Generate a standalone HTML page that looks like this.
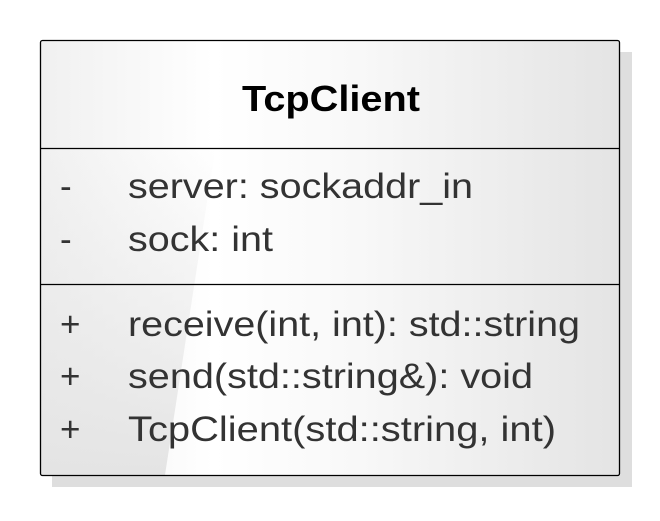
<!DOCTYPE html>
<html><head><style>body{margin:0;background:#fff}</style></head><body>
<svg width="660" height="516" xmlns="http://www.w3.org/2000/svg" font-family="Liberation Sans, sans-serif">
<defs>
<linearGradient id="g" x1="0" y1="0" x2="1" y2="0">
<stop offset="0" stop-color="#f0f0f0"/><stop offset="0.3" stop-color="#ffffff"/><stop offset="0.55" stop-color="#f8f8f8"/><stop offset="1" stop-color="#e4e4e4"/>
</linearGradient>
<linearGradient id="h" x1="0" y1="0" x2="0" y2="1">
<stop offset="0" stop-color="#e6e6e6" stop-opacity="0"/><stop offset="1" stop-color="#e4e4e4" stop-opacity="1"/>
</linearGradient>
</defs>
<rect x="52" y="52" width="580" height="435" fill="#dedede"/>
<rect x="40.5" y="40.5" width="579" height="435" fill="url(#g)"/>
<polygon points="41,150 215,150 165,475 41,475" fill="url(#h)"/>
<rect x="40.5" y="40.5" width="579" height="435" fill="none" stroke="#000" stroke-width="1.3" rx="2"/>
<line x1="41" y1="148.5" x2="619" y2="148.5" stroke="#000" stroke-width="1.3"/>
<line x1="41" y1="284.5" x2="619" y2="284.5" stroke="#000" stroke-width="1.3"/>
<text x="242" y="111" font-weight="bold" font-size="36" fill="#000" textLength="178" lengthAdjust="spacingAndGlyphs">TcpClient</text>
<g font-size="35" fill="#333">
<text x="60" y="198">-</text><text x="128" y="198" textLength="345" lengthAdjust="spacingAndGlyphs">server: sockaddr_in</text>
<text x="60" y="251">-</text><text x="128" y="251" textLength="145" lengthAdjust="spacingAndGlyphs">sock: int</text>
<text x="60" y="336">+</text><text x="128" y="336" textLength="452" lengthAdjust="spacingAndGlyphs">receive(int, int): std::string</text>
<text x="60" y="388">+</text><text x="128" y="388" textLength="405" lengthAdjust="spacingAndGlyphs">send(std::string&amp;): void</text>
<text x="60" y="441">+</text><text x="128" y="441" textLength="428" lengthAdjust="spacingAndGlyphs">TcpClient(std::string, int)</text>
</g>
</svg>
</body></html>
